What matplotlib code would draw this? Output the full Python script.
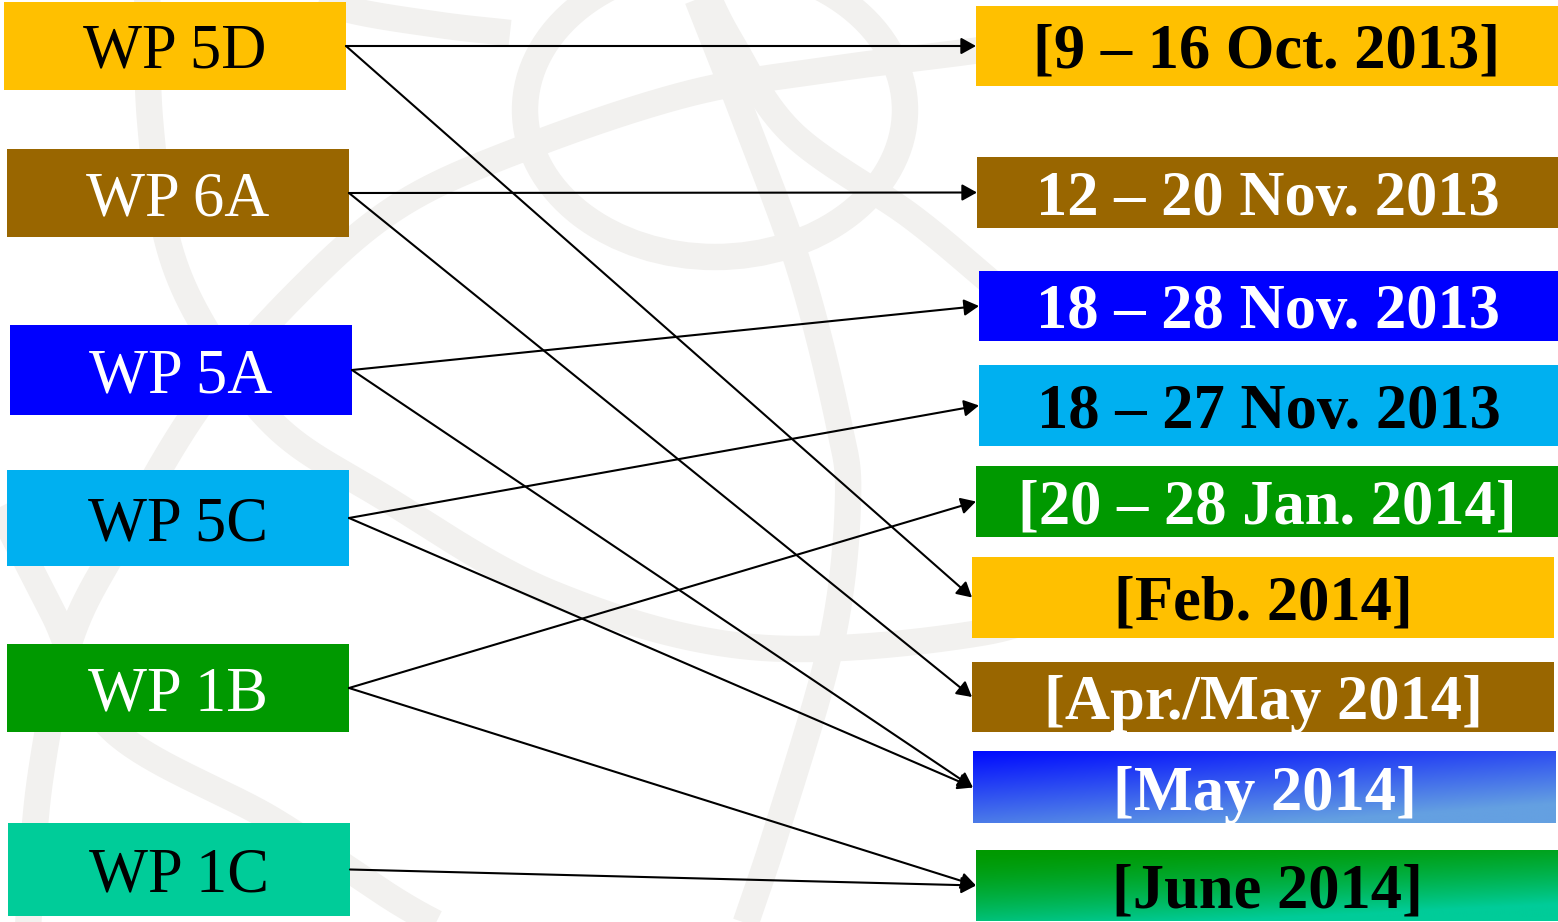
import matplotlib.pyplot as plt
import numpy as np
from matplotlib.patches import Rectangle, Ellipse

# Working parties (left column)
left_labels = ['WP 5D', 'WP 6A', 'WP 5A', 'WP 5C', 'WP 1B', 'WP 1C']
left_colors = ['#FFC000', '#996600', '#0000FF', '#00B0F0', '#009900', '#00CC99']
left_text = ['black', 'white', 'white', 'black', 'white', 'black']

# Meeting dates (right column)
right_labels = ['[9 – 16 Oct. 2013]', '12 – 20 Nov. 2013', '18 – 28 Nov. 2013',
                '18 – 27 Nov. 2013', '[20 – 28 Jan. 2014]', '[Feb. 2014]',
                '[Apr./May 2014]', '[May 2014]', '[June 2014]']
right_colors = ['#FFC000', '#996600', '#0000FF', '#00B0F0', '#009900', '#FFC000',
                '#996600', 'grad_blue', 'grad_green']
right_text = ['black', 'white', 'white', 'black', 'white', 'black', 'white', 'white', 'black']

# which working party meets when (left index, right index)
links = [(0, 0), (0, 5), (1, 1), (1, 6), (2, 2), (2, 7), (3, 3), (3, 7), (4, 4), (4, 8), (5, 8)]

# layout (pixel boxes x0, y0, x1, y1)
left_boxes = [(4, 2, 346, 90), (7, 149, 349, 237), (10, 325, 352, 415),
              (7, 470, 349, 566), (7, 644, 349, 732), (8, 823, 350, 916)]
right_boxes = [(976, 6, 1558, 86), (977, 157, 1558, 228), (979, 271, 1558, 341),
               (979, 365, 1558, 446), (976, 466, 1558, 537), (972, 557, 1554, 638),
               (972, 662, 1554, 732), (973, 752, 1556, 823), (976, 850, 1558, 921)]

W, H = 1558, 922
fig = plt.figure(figsize=(W / 100, H / 100), dpi=100)
ax = fig.add_axes([0, 0, 1, 1])
ax.set_xlim(0, W)
ax.set_ylim(H, 0)
ax.axis('off')


def smooth(pts, n=40):
    p = np.array(pts, float)
    p = np.vstack([2 * p[0] - p[1], p, 2 * p[-1] - p[-2]])
    out = []
    t = np.linspace(0, 1, n)[:, None]
    for i in range(1, len(p) - 2):
        p0, p1, p2, p3 = p[i - 1], p[i], p[i + 1], p[i + 2]
        out.append(0.5 * (2 * p1 + (-p0 + p2) * t + (2 * p0 - 5 * p1 + 4 * p2 - p3) * t ** 2
                          + (-p0 + 3 * p1 - 3 * p2 + p3) * t ** 3))
    return np.vstack(out)


# faint globe watermark
wm = '#F2F1EF'
wlw = 19
bands = [
    [(147, -20), (150, 120), (170, 250), (215, 345), (280, 430), (380, 495),
     (551, 593), (752, 647), (980, 633), (1100, 590)],
    [(1100, 30), (980, 50), (840, 68), (691, 93), (527, 147), (400, 205), (300, 290),
     (200, 405), (120, 540), (70, 640), (40, 780), (27, 940)],
    [(690, -20), (745, 120), (800, 270), (838, 420), (848, 500),
     (832, 640), (780, 820), (740, 940)],
    [(700, -20), (730, 40), (792, 133), (912, 217), (1000, 290)],
    [(-10, 490), (53, 613), (113, 730), (273, 820), (400, 903), (470, 940)],
    [(300, -10), (350, 10), (440, 25), (510, 33)],
]
for b in bands:
    c = smooth(b)
    ax.plot(c[:, 0], c[:, 1], color=wm, lw=wlw, solid_capstyle='butt', zorder=0)
ax.add_patch(Ellipse((715, 110), 380, 294, fill=False, edgecolor=wm, lw=wlw, zorder=0))


def gradient(kind, nx=200, ny=60):
    u = np.linspace(0, 1, nx)[None, :]
    v = np.linspace(0, 1, ny)[:, None]
    if kind == 'grad_blue':
        t = np.clip(0.45 * u + 0.75 * v, 0, 1)
        c0, c1 = np.array([0, 10, 255]), np.array([100, 160, 225])
    else:
        t = np.clip(0.35 * u + 0.85 * v, 0, 1) ** 1.5
        c0, c1 = np.array([0, 153, 0]), np.array([0, 204, 153])
    return (c0 + (c1 - c0) * t[..., None]) / 255.0


def draw_box(box, color, label, tcolor, weight):
    x0, y0, x1, y1 = box
    if color.startswith('grad'):
        ax.imshow(gradient(color), extent=(x0, x1, y1, y0), aspect='auto', zorder=1,
                  interpolation='bilinear')
    else:
        ax.add_patch(Rectangle((x0, y0), x1 - x0, y1 - y0, facecolor=color,
                               edgecolor='none', zorder=1))
    ax.text((x0 + x1) / 2, (y0 + y1) / 2 + 22, label, color=tcolor, fontsize=45,
            fontweight=weight, family='Liberation Serif', ha='center', va='baseline',
            zorder=2)


for box, col, lab, tc in zip(left_boxes, left_colors, left_labels, left_text):
    draw_box(box, col, lab, tc, 'normal')
for box, col, lab, tc in zip(right_boxes, right_colors, right_labels, right_text):
    draw_box(box, col, lab, tc, 'bold')

for i, j in links:
    lb, rb = left_boxes[i], right_boxes[j]
    start = (lb[2], (lb[1] + lb[3]) / 2)
    end = (rb[0], (rb[1] + rb[3]) / 2)
    ax.annotate('', xy=end, xytext=start,
                arrowprops=dict(arrowstyle='-|>,head_length=0.45,head_width=0.25',
                                color='black', lw=1.5, mutation_scale=20,
                                shrinkA=0, shrinkB=0), zorder=3)

ax.set_xlim(0, W)
ax.set_ylim(H, 0)
fig.savefig('out.png', dpi=100)
